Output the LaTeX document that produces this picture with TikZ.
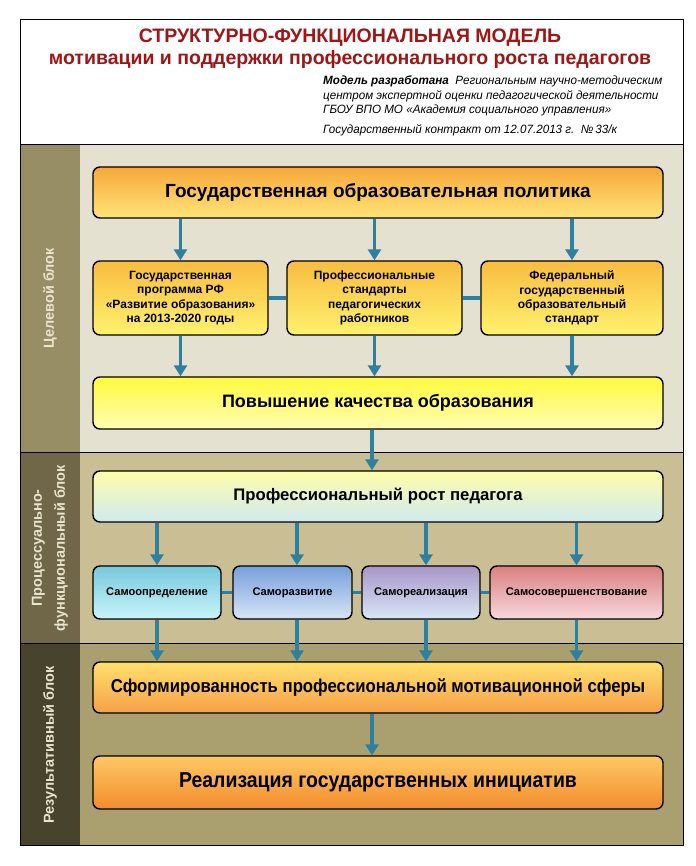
\documentclass[tikz,border=0pt]{standalone}
\usepackage{fontspec}
\setmainfont{Liberation Sans}
\newfontfamily\narrowfont[FakeStretch=0.9]{Liberation Sans}
\newfontfamily\headfont[FakeStretch=0.97]{Liberation Sans}
\usetikzlibrary{arrows.meta}
\definecolor{titlered}{RGB}{160,22,22}
\definecolor{arrteal}{RGB}{45,128,158}
\definecolor{bgA}{RGB}{228,225,208}
\definecolor{bgB}{RGB}{202,191,148}
\definecolor{bgC}{RGB}{170,159,110}
\definecolor{colA}{RGB}{152,142,102}
\definecolor{colB}{RGB}{112,102,72}
\definecolor{colC}{RGB}{72,67,44}
\definecolor{coltext}{RGB}{232,228,205}
\tikzset{
  box/.style={draw=black, line width=1.4pt, rounded corners=7pt, align=center, font=\bfseries, inner sep=2pt},
  bigbox/.style={box, minimum width=570pt},
  orangebox/.style={top color={rgb,255:red,246;green,168;blue,58}, bottom color={rgb,255:red,255;green,228;blue,120}},
  midbox/.style={top color={rgb,255:red,248;green,188;blue,64}, bottom color={rgb,255:red,255;green,242;blue,110}},
  yelbox/.style={top color={rgb,255:red,255;green,250;blue,60}, bottom color={rgb,255:red,255;green,252;blue,180}},
  prpbox/.style={top color={rgb,255:red,255;green,253;blue,170}, bottom color={rgb,255:red,208;green,234;blue,240}},
  sfbox/.style={top color={rgb,255:red,255;green,224;blue,110}, bottom color={rgb,255:red,246;green,160;blue,72}},
  ribox/.style={top color={rgb,255:red,254;green,200;blue,100}, bottom color={rgb,255:red,243;green,140;blue,46}},
  arr/.style={draw=arrteal, line width=3.2pt, -{Triangle[length=11pt,width=13pt]}},
  link/.style={draw=arrteal, line width=3.2pt},
  sidelabel/.style={rotate=90, text=coltext, font=\bfseries\fontsize{14.5}{17}\selectfont, align=center},
  smallfont/.style={font=\bfseries\fontsize{11.1}{13}\selectfont}
}
\begin{document}
\begin{tikzpicture}[x=1pt,y=-1pt]
\useasboundingbox (0,0) rectangle (695,866);
\fill[white] (0,0) rectangle (695,866);
% bands
\fill[bgA] (20,145) rectangle (683,452);
\fill[bgB] (20,452) rectangle (683,643);
\fill[bgC] (20,643) rectangle (683,845);
\fill[colA] (20,145) rectangle (80,452);
\fill[colB] (20,452) rectangle (80,643);
\fill[colC] (20,643) rectangle (80,845);
\draw[line width=0.8pt] (20,452) -- (683,452);
\draw[line width=0.8pt] (20,643) -- (683,643);
\draw[line width=1pt] (20,20) rectangle (683,845);
\draw[line width=1pt] (20,145) -- (683,145);
% header
\node[text=titlered, font=\bfseries\fontsize{19.5}{22}\selectfont] (t1) at (350,38) {СТРУКТУРНО-ФУНКЦИОНАЛЬНАЯ МОДЕЛЬ};
\node[text=titlered, font=\bfseries\fontsize{19.5}{22}\selectfont] (t2) at (350,59) {мотивации и поддержки профессионального роста педагогов};
\node[anchor=north west, align=left, inner sep=0pt, font=\headfont\itshape\fontsize{12}{14.5}\selectfont] (dev) at (323,76)
 {\textbf{Модель разработана}\ \ Региональным научно-методическим\\центром экспертной оценки педагогической деятельности\\ГБОУ ВПО МО «Академия социального управления»};
\node[anchor=west, inner sep=0pt, font=\headfont\itshape\fontsize{12}{14}\selectfont] (contract) at (323,130) {Государственный контракт от 12.07.2013 г.\ \ №\,33/к};
% side labels
\node[sidelabel] (lab1) at (50,298) {Целевой блок};
\node[sidelabel, font=\bfseries\fontsize{14.5}{23}\selectfont] (lab2) at (50,548) {Процессуально-\\функциональный блок};
\node[sidelabel] (lab3) at (50,745) {Результативный блок};
% nodes
\node[bigbox, orangebox, minimum height=51pt, font=\bfseries\fontsize{19}{22}\selectfont] (gop) at (378,192.5) {Государственная образовательная политика};
\node[box, midbox, minimum width=175pt, minimum height=74pt, font=\bfseries\fontsize{12}{14.3}\selectfont] (p1) at (180.5,298) {Государственная\\программа РФ\\«Развитие образования»\\на 2013-2020 годы};
\node[box, midbox, minimum width=175pt, minimum height=74pt, font=\bfseries\fontsize{12}{14.3}\selectfont] (p2) at (374.5,298) {Профессиональные\\стандарты\\педагогических\\работников};
\node[box, midbox, minimum width=182pt, minimum height=74pt, font=\bfseries\fontsize{12}{14.3}\selectfont] (p3) at (572,298) {Федеральный\\государственный\\образовательный\\стандарт};
\node[bigbox, yelbox, minimum height=52pt, font=\bfseries\fontsize{18}{21}\selectfont] (pkv) at (378,403) {Повышение качества образования};
\node[bigbox, prpbox, minimum height=51pt, font=\bfseries\fontsize{16.7}{20}\selectfont] (prp) at (378,496.5) {Профессиональный рост педагога};
\node[box, smallfont, minimum width=128pt, minimum height=53pt, top color={rgb,255:red,120;green,200;blue,220}, bottom color={rgb,255:red,200;green,245;blue,250}] (s1) at (157,592.5) {Самоопределение};
\node[box, smallfont, minimum width=119pt, minimum height=53pt, top color={rgb,255:red,120;green,160;blue,220}, bottom color={rgb,255:red,215;green,228;blue,245}] (s2) at (292.5,592.5) {Саморазвитие};
\node[box, smallfont, minimum width=118pt, minimum height=53pt, top color={rgb,255:red,168;green,150;blue,200}, bottom color={rgb,255:red,215;green,232;blue,245}] (s3) at (421,592.5) {Самореализация};
\node[box, smallfont, minimum width=173pt, minimum height=53pt, top color={rgb,255:red,218;green,128;blue,128}, bottom color={rgb,255:red,248;green,215;blue,220}] (s4) at (576.5,592.5) {Самосовершенствование};
\node[bigbox, sfbox, minimum height=51pt, font=\narrowfont\bfseries\fontsize{18.6}{21}\selectfont] (sf) at (378,687.5) {Сформированность профессиональной мотивационной сферы};
\node[bigbox, ribox, minimum height=53pt, font=\narrowfont\bfseries\fontsize{21.6}{25}\selectfont] (ri) at (378,782.5) {Реализация государственных инициатив};
% links between boxes
\draw[link] (p1.east) -- (p2.west);
\draw[link] (p2.east) -- (p3.west);
\draw[link] (s1.east) -- (s2.west);
\draw[link] (s2.east) -- (s3.west);
\draw[link] (s3.east) -- (s4.west);
% arrows
\foreach \n in {p1,p2,p3}{
  \draw[arr] (\n.north |- gop.south) -- (\n.north);
  \draw[arr] (\n.south) -- (\n.south |- pkv.north);
}
\draw[arr] ([xshift=-6pt]pkv.south) -- ([xshift=-6pt]prp.north);
\draw[arr] (s1.north |- prp.south) -- (s1.north);
\draw[arr] ([xshift=4.5pt]s2.north |- prp.south) -- ([xshift=4.5pt]s2.north);
\draw[arr] ([xshift=5pt]s3.north |- prp.south) -- ([xshift=5pt]s3.north);
\draw[arr] (s4.north |- prp.south) -- (s4.north);
\draw[arr] (s1.south) -- (s1.south |- sf.north);
\draw[arr] ([xshift=4.5pt]s2.south) -- ([xshift=4.5pt]s2.south |- sf.north);
\draw[arr] ([xshift=5pt]s3.south) -- ([xshift=5pt]s3.south |- sf.north);
\draw[arr] (s4.south) -- (s4.south |- sf.north);
\draw[arr] ([xshift=-6pt]sf.south) -- ([xshift=-6pt]ri.north);
\end{tikzpicture}
\end{document}
